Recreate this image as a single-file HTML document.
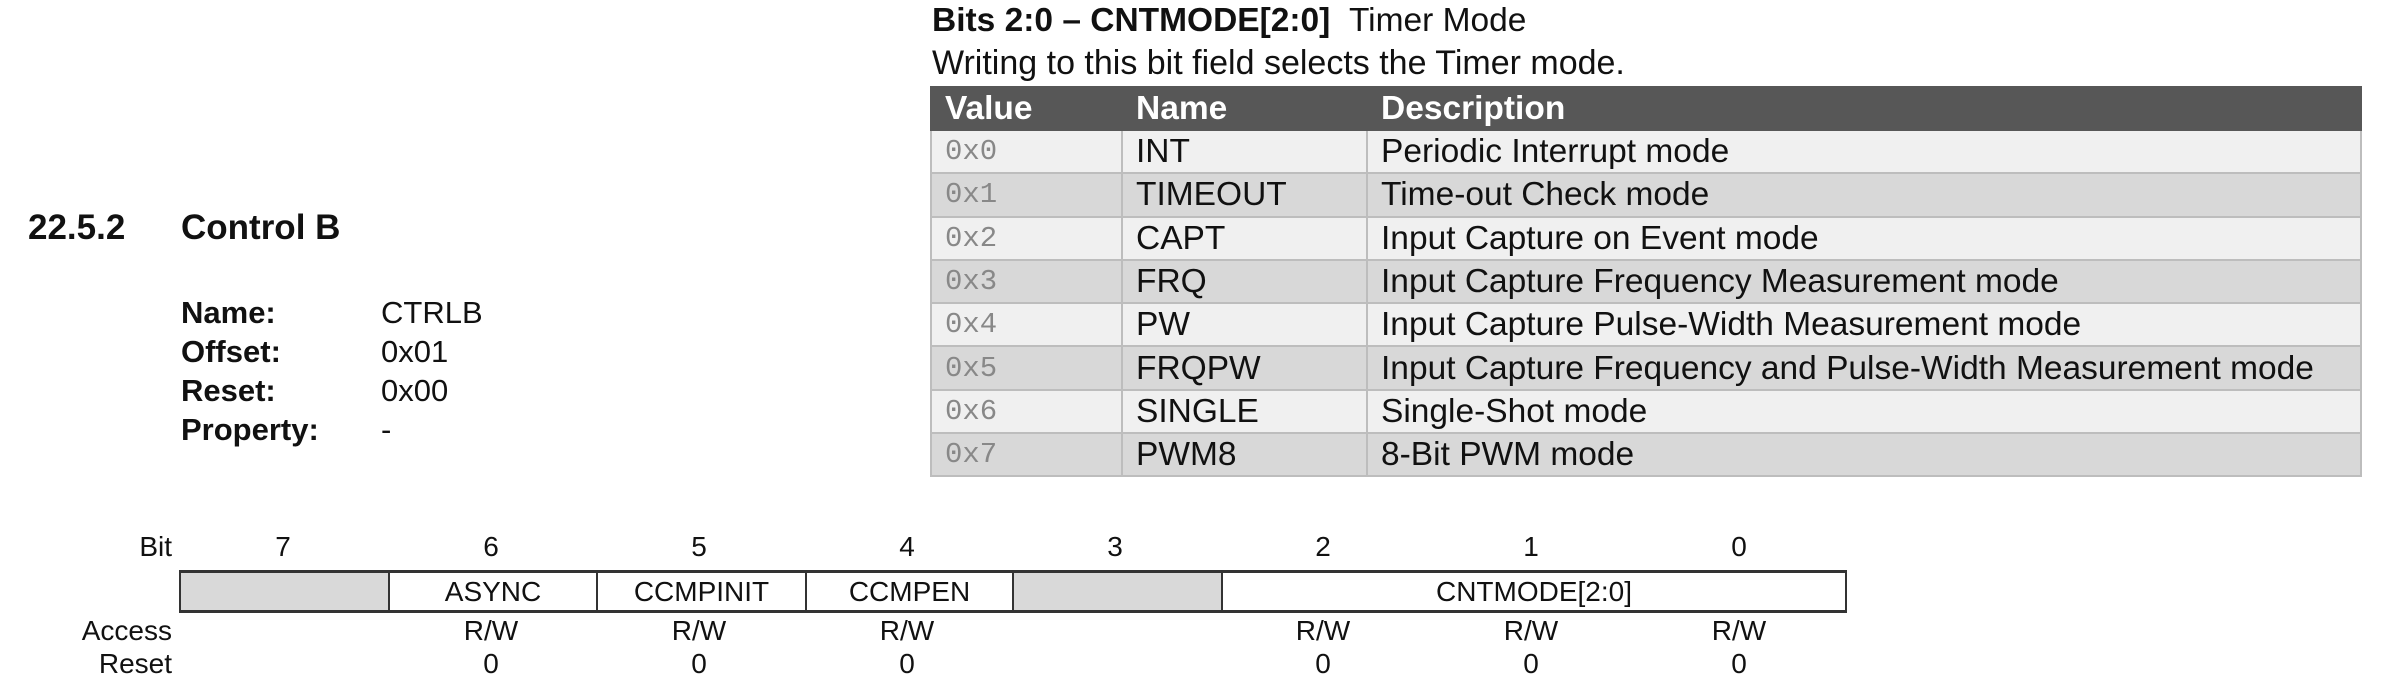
<!DOCTYPE html>
<html><head><meta charset="utf-8"><style>
body{margin:0;width:2385px;height:697px;background:#fff;position:relative;overflow:hidden;font-family:"Liberation Sans",sans-serif;color:#111}
.a{position:absolute;white-space:nowrap}
.b{font-weight:bold}
table{position:absolute;left:930px;top:86px;width:1432px;border-collapse:collapse;font-size:33.5px}
td,th{height:41.3px;padding:0 0 0 13px;text-align:left;border:2px solid #bdbdbd;line-height:41px;white-space:nowrap}
th{background:#575757;color:#fff;font-weight:bold;border-color:#575757;height:40px}
tr.o td{background:#f0f0f0}tr.e td{background:#d8d8d8}
td.v{font-family:"Liberation Mono",monospace;color:#888;font-size:29px}
.reg{position:absolute;top:570px;height:37px;border-top:3px solid #333;border-bottom:3px solid #333;border-left:2px solid #333;text-align:center;line-height:37px;font-size:28px}
.g{background:#d9d9d9}
.s{position:absolute;font-size:28px;text-align:center;width:208px}
</style></head><body>
<div class="a b" style="left:932px;top:2px;font-size:33.5px">Bits 2:0 – CNTMODE[2:0] <span style="font-weight:normal">&nbsp;Timer Mode</span></div>
<div class="a" style="left:932px;top:44px;font-size:34px">Writing to this bit field selects the Timer mode.</div>
<table>
<colgroup><col style="width:191px"><col style="width:245px"><col></colgroup>
<tr><th>Value</th><th>Name</th><th>Description</th></tr>
<tr class="o"><td class="v">0x0</td><td>INT</td><td>Periodic Interrupt mode</td></tr>
<tr class="e"><td class="v">0x1</td><td>TIMEOUT</td><td>Time-out Check mode</td></tr>
<tr class="o"><td class="v">0x2</td><td>CAPT</td><td>Input Capture on Event mode</td></tr>
<tr class="e"><td class="v">0x3</td><td>FRQ</td><td>Input Capture Frequency Measurement mode</td></tr>
<tr class="o"><td class="v">0x4</td><td>PW</td><td>Input Capture Pulse-Width Measurement mode</td></tr>
<tr class="e"><td class="v">0x5</td><td>FRQPW</td><td>Input Capture Frequency and Pulse-Width Measurement mode</td></tr>
<tr class="o"><td class="v">0x6</td><td>SINGLE</td><td>Single-Shot mode</td></tr>
<tr class="e"><td class="v">0x7</td><td>PWM8</td><td>8-Bit PWM mode</td></tr>
</table>
<div class="a b" style="left:28px;top:208px;font-size:35px">22.5.2</div>
<div class="a b" style="left:181px;top:208px;font-size:35px">Control B</div>
<div class="a b" style="left:181px;top:293px;font-size:31px;line-height:39px">Name:<br>Offset:<br>Reset:<br>Property:</div>
<div class="a" style="left:381px;top:293px;font-size:31px;line-height:39px">CTRLB<br>0x01<br>0x00<br>-</div>
<div class="a" style="left:100px;top:531px;width:72px;text-align:right;font-size:28px">Bit</div>
<div class="a" style="left:40px;top:615px;width:132px;text-align:right;font-size:28px">Access</div>
<div class="a" style="left:40px;top:648px;width:132px;text-align:right;font-size:28px">Reset</div>
<div id="bits"></div>
<div class="reg g" style="left:179px;width:207px"></div>
<div class="reg" style="left:388px;width:206px">ASYNC</div>
<div class="reg" style="left:596px;width:207px">CCMPINIT</div>
<div class="reg" style="left:805px;width:205px">CCMPEN</div>
<div class="reg g" style="left:1012px;width:207px"></div>
<div class="reg" style="left:1221px;width:622px;border-right:2px solid #333">CNTMODE[2:0]</div>
<script>
const bitNums=["7","6","5","4","3","2","1","0"];
const access=["","R/W","R/W","R/W","","R/W","R/W","R/W"];
const resets=["","0","0","0","","0","0","0"];
const host=document.getElementById('bits');
for(let i=0;i<8;i++){
  const x=179+i*208;
  [[bitNums[i],531,'bit-number'],[access[i],615,'access-value'],[resets[i],648,'reset-value']].forEach(([t,y,n])=>{
    if(!t)return;
    const d=document.createElement('div');
    d.className='s';d.style.left=x+'px';d.style.top=y+'px';d.textContent=t;
    
    
    host.appendChild(d);
  });
}
</script>
</body></html>
